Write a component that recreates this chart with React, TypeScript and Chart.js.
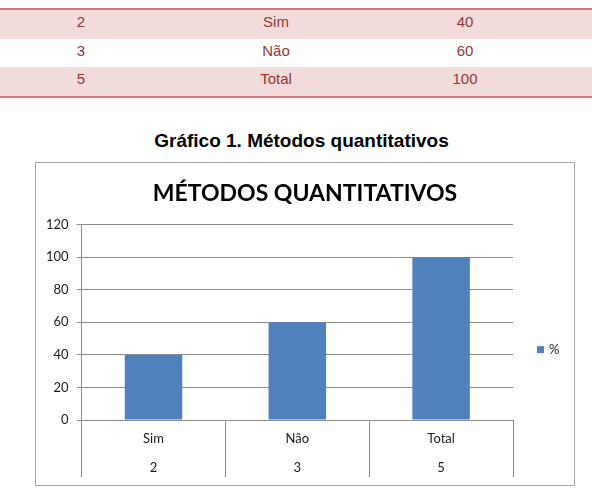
import React, { useEffect, useRef } from "react";
import { Chart, registerables } from "chart.js";

Chart.register(...registerables);

// ---- data ----
const codes = ["2", "3", "5"];
const categories = ["Sim", "Não", "Total"];
const percentValues = [40, 60, 100];
const seriesLabel = "%";
const yTickValues = [0, 20, 40, 60, 80, 100, 120];
const chartTitle = "MÉTODOS QUANTITATIVOS";
const captionText = "Gráfico 1. Métodos quantitativos";

// ---- styles ----
const BAR_COLOR = "#4f81bd";
const GRID_COLOR = "#8c8c8c";
const LABEL_COLOR = "#1a1a1a";
const TABLE_TEXT = "#943634";
const TABLE_BAND = "#f2dbdb";
const TABLE_BORDER = "#cf7a78";

const sideLegend = {
  id: "sideLegend",
  afterDraw(chart: any) {
    const { ctx, chartArea } = chart;
    const ds = chart.data.datasets[0];
    const cy = chartArea.top + (chartArea.bottom - chartArea.top) * 0.64;
    const x0 = chartArea.right + 24;
    ctx.save();
    ctx.fillStyle = ds.backgroundColor;
    ctx.fillRect(x0, cy - 3.5, 7, 7);
    ctx.fillStyle = LABEL_COLOR;
    ctx.font = "13px Lato";
    ctx.textBaseline = "middle";
    ctx.textAlign = "left";
    ctx.fillText(ds.label, x0 + 12, cy);
    ctx.restore();
  },
};

function BarChart() {
  const ref = useRef<HTMLCanvasElement | null>(null);
  useEffect(() => {
    if (!ref.current) return;
    const chart = new Chart(ref.current, {
      type: "bar",
      data: {
        labels: categories.map((c, i) => [c, codes[i]]),
        datasets: [
          {
            label: seriesLabel,
            data: percentValues,
            backgroundColor: BAR_COLOR,
            borderWidth: 0,
            barPercentage: 0.4,
            categoryPercentage: 1,
          },
        ],
      },
      options: {
        responsive: false,
        animation: false,
        layout: { padding: { left: 2, right: 2, top: 0, bottom: 3 } },
        plugins: {
          legend: { display: false },
          tooltip: { enabled: false },
          title: {
            display: true,
            text: chartTitle,
            color: "#000",
            font: { family: "Lato", size: 23, weight: "bold", lineHeight: 1.2 },
            padding: { top: 17, bottom: 17 },
          },
        },
        scales: {
          x: {
            grid: {
              display: true,
              drawOnChartArea: false,
              offset: true,
              tickLength: 57,
              color: GRID_COLOR,
              lineWidth: 1,
            },
            border: { display: true, color: GRID_COLOR },
            ticks: {
              padding: -52,
              color: LABEL_COLOR,
              font: { family: "Lato", size: 13, lineHeight: 2.19 },
              maxRotation: 0,
              autoSkip: false,
            },
            afterFit: (s: any) => {
              s.height = 62;
            },
          },
          y: {
            min: 0,
            max: 120,
            afterBuildTicks: (scale: any) => {
              scale.ticks = yTickValues.map((v) => ({ value: v }));
            },
            ticks: {
              padding: 8,
              color: LABEL_COLOR,
              font: { family: "Lato", size: 13 },
            },
            grid: { color: GRID_COLOR, tickLength: 5, drawTicks: true },
            border: { display: true, color: GRID_COLOR },
          },
          legendSpace: {
            position: "right",
            display: true,
            grid: { display: false, drawTicks: false },
            border: { display: false },
            ticks: { display: false },
            afterFit: (s: any) => {
              s.width = 59;
            },
          },
        },
      },
      plugins: [sideLegend],
    } as any);
    return () => chart.destroy();
  }, []);
  return <canvas ref={ref} width={538} height={322} style={{ display: "block" }} />;
}

const tableRows = codes.map((c, i) => ({ code: c, cat: categories[i], val: String(percentValues[i]) }));

export default function App() {
  const rowTops = [10, 38.5, 67];
  const rowH = 28.5;
  const colX = [81, 276, 465];
  return (
    <div
      style={{
        position: "absolute",
        left: 0,
        top: 0,
        width: 592,
        height: 489,
        background: "#fff",
        overflow: "hidden",
        fontFamily: "'Liberation Sans', Arial, sans-serif",
      }}
    >
      <div style={{ position: "absolute", left: 0, top: 8, width: 592, height: 2, background: TABLE_BORDER }} />
      {tableRows.map((r, i) => (
        <div
          key={i}
          style={{
            position: "absolute",
            left: 0,
            top: rowTops[i],
            width: 592,
            height: rowH,
            background: i % 2 === 0 ? TABLE_BAND : "#fff",
          }}
        >
          {[r.code, r.cat, r.val].map((t, j) => (
            <span
              key={j}
              style={{
                position: "absolute",
                left: colX[j],
                top: 4,
                transform: "translateX(-50%)",
                fontSize: 15,
                lineHeight: "15px",
                color: TABLE_TEXT,
                whiteSpace: "nowrap",
              }}
            >
              {t}
            </span>
          ))}
        </div>
      ))}
      <div style={{ position: "absolute", left: 0, top: 95.5, width: 592, height: 2, background: TABLE_BORDER }} />
      <div
        style={{
          position: "absolute",
          left: 301.5,
          top: 131,
          transform: "translateX(-50%)",
          fontSize: 19,
          lineHeight: "19px",
          fontWeight: "bold",
          color: "#000",
          whiteSpace: "nowrap",
        }}
      >
        {captionText}
      </div>
      <div
        style={{
          position: "absolute",
          left: 35,
          top: 162,
          width: 540,
          height: 324,
          border: "1px solid #a6a6a6",
          boxSizing: "border-box",
        }}
      >
        <BarChart />
      </div>
    </div>
  );
}
